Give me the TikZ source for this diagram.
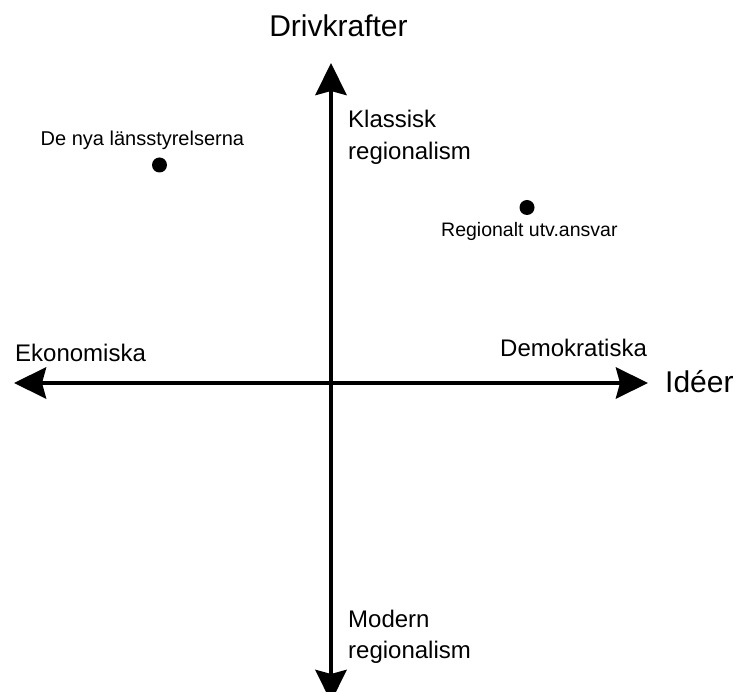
\documentclass[tikz,border=0pt]{standalone}
\usepackage{fontspec}
\setmainfont{Liberation Sans}
\usetikzlibrary{arrows.meta}
\tikzset{
  axis/.style={line width=4.8pt, {Stealth[length=32pt,width=31pt,inset=4pt]}-{Stealth[length=32pt,width=31pt,inset=4pt]}},
  lbl/.style={inner sep=0pt, anchor=base west, font=\fontsize{24}{32}\selectfont, align=left},
  big/.style={inner sep=0pt, font=\fontsize{30}{36}\selectfont},
  small/.style={inner sep=0pt, anchor=base west, font=\fontsize{20}{24}\selectfont},
  dot/.style={circle, fill=black, inner sep=0pt, minimum size=15pt}
}
\begin{document}
\begin{tikzpicture}[x=1pt,y=-1pt]
\useasboundingbox (0,0) rectangle (737,692);
\begin{scope}
\clip (0,0) rectangle (737,692);
\coordinate (L) at (14,383);
\coordinate (R) at (648,383);
\coordinate (T) at (331,63);
\coordinate (B) at (331,702);
\draw[axis] (L) -- (R);
\draw[axis] (B) -- (T);
\end{scope}
\node[big, anchor=base] (drv) at (338.5,37) {Drivkrafter};
\node[big, anchor=base west] (ide) at (665,393) {Idéer};
\node[lbl] (kla) at (348,160) {Klassisk\\regionalism};
\node[lbl] (mod) at (348,659) {Modern\\regionalism};
\node[lbl] (eko) at (15,362) {Ekonomiska};
\node[lbl] (dem) at (500,357) {Demokratiska};
\node[small] (lst) at (40.5,146) {De nya länsstyrelserna};
\node[dot] (d1) at (159.5,165) {};
\node[dot] (d2) at (527,207.5) {};
\node[small, font=\fontsize{19.5}{24}\selectfont] (rua) at (441,237) {Regionalt utv.ansvar};
\end{tikzpicture}
\end{document}
